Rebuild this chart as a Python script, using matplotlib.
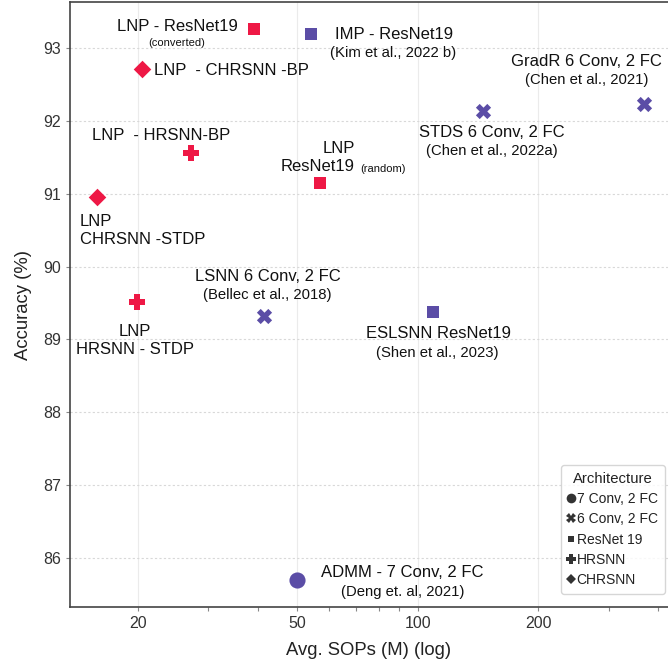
import numpy as np
import matplotlib.pyplot as plt
from matplotlib.lines import Line2D

plt.rcParams['font.family'] = ['Liberation Sans', 'DejaVu Sans']

# --- data -------------------------------------------------------------
names = ['LNP - ResNet19', 'IMP - ResNet19', 'LNP  - CHRSNN -BP', 'LNP  - HRSNN-BP',
         'LNP\nResNet19', 'LNP\nCHRSNN -STDP', 'LNP\nHRSNN - STDP',
         'LSNN 6 Conv, 2 FC', 'GradR 6 Conv, 2 FC', 'STDS 6 Conv, 2 FC',
         'ESLSNN ResNet19', 'ADMM - 7 Conv, 2 FC']
notes = ['(converted)', '(Kim et al., 2022 b)', '', '', '(random)', '', '',
         '(Bellec et al., 2018)', '(Chen et al., 2021)', '(Chen et al., 2022a)',
         '(Shen et al., 2023)', '(Deng et. al, 2021)']
sops = [39.1, 54.2, 20.5, 27.2, 57.0, 15.8, 19.9, 41.4, 367, 146, 109, 50]
acc = [93.26, 93.19, 92.71, 91.56, 91.14, 90.96, 89.51, 89.32, 92.23, 92.14, 89.38, 85.70]
arch = ['ResNet 19', 'ResNet 19', 'CHRSNN', 'HRSNN', 'ResNet 19', 'CHRSNN', 'HRSNN',
        '6 Conv, 2 FC', '6 Conv, 2 FC', '6 Conv, 2 FC', 'ResNet 19', '7 Conv, 2 FC']
ours = [True, False, True, True, True, True, True, False, False, False, False, False]

arch_order = ['7 Conv, 2 FC', '6 Conv, 2 FC', 'ResNet 19', 'HRSNN', 'CHRSNN']

# --- style ------------------------------------------------------------
RED = '#EE1845'
PURPLE = '#5B4DA6'
markers = {'7 Conv, 2 FC': ('o', 135), '6 Conv, 2 FC': ('X', 120),
           'ResNet 19': ('s', 64), 'HRSNN': ('P', 120), 'CHRSNN': ('D', 80)}

# label placement (offset pixels from point); (dx, dy, ha) for main text and note
main_pos = [(-77, 2, 'center'), (83, 0, 'center'), (12, -1, 'left'), (-30, 17, 'center'),
            (35, 26, 'right'), (-17, -34, 'left'), (-2, -38, 'center'),
            (3, 40, 'center'), (-57, 43, 'center'), (8, -22, 'center'),
            (6, -22, 'center'), (105, 7, 'center')]
note_pos = [(-78, -14, 'center'), (82, -19, 'center'), None, None, (40, 14, 'left'),
            None, None, (3, 21, 'center'), (-57, 24, 'center'), (8, -40, 'center'),
            (5, -41, 'center'), (105, -12, 'center')]

fig = plt.figure(figsize=(6.68, 6.66), dpi=100)
ax = fig.add_axes([70 / 668, 59 / 666, 1 - 70 / 668, 605 / 666])

for x, y, a, o in zip(sops, acc, arch, ours):
    m, s = markers[a]
    ax.scatter(x, y, marker=m, s=s, color=RED if o else PURPLE, linewidths=0, zorder=3)

for i in range(len(names)):
    dx, dy, ha = main_pos[i]
    ax.annotate(names[i], (sops[i], acc[i]), xytext=(dx, dy), textcoords='offset pixels',
                ha=ha, va='center', fontsize=12, color='#111111', linespacing=1.25)
    if note_pos[i] is not None:
        dx, dy, ha = note_pos[i]
        small = notes[i] in ('(converted)', '(random)')
        ax.annotate(notes[i], (sops[i], acc[i]), xytext=(dx, dy), textcoords='offset pixels',
                    ha=ha, va='center', fontsize=8 if small else 10.7, color='#111111')

ax.set_xscale('log')
ax.set_xlim(13.52, 422.5)
ax.set_ylim(85.327, 93.63)
ax.set_xticks([20, 50, 100, 200])
ax.set_xticklabels(['20', '50', '100', '200'])
ax.set_yticks(np.arange(86, 94))
ax.tick_params(labelsize=11.5, labelcolor='#333333', color='#888888', length=3, width=0.8)
ax.tick_params(which='minor', color='#888888', length=3, width=0.8)

ax.grid(axis='y', color='#d8d8d8', linestyle=(0, (2, 2)), linewidth=0.8)
ax.grid(axis='x', which='major', color='#ebebeb', linestyle='-', linewidth=0.8)
ax.set_axisbelow(True)

for side in ['left', 'bottom', 'top']:
    ax.spines[side].set_color('#444444')
    ax.spines[side].set_linewidth(1.2)
ax.spines['right'].set_visible(False)

ax.set_xlabel('Avg. SOPs (M) (log)', fontsize=13.3, color='#222222', labelpad=8)
ax.set_ylabel('Accuracy (%)', fontsize=13.3, color='#222222', labelpad=8)

handles = [Line2D([], [], marker=markers[a][0], linestyle='', color='#333333',
                  markersize=np.sqrt(markers[a][1]) * 0.6, markeredgewidth=0)
           for a in arch_order]
leg = ax.legend(handles, arch_order, title='Architecture', loc='lower right',
                bbox_to_anchor=(1.006, 0.01), fontsize=10, title_fontsize=10.7,
                handlelength=0.5, handletextpad=0.15, labelspacing=0.45,
                borderpad=0.5, frameon=True, fancybox=True)
leg.get_frame().set_edgecolor('#cccccc')
leg.get_frame().set_linewidth(1.0)
for t in leg.get_texts():
    t.set_color('#222222')
leg.get_title().set_color('#222222')

fig.savefig('out.png', dpi=100)
